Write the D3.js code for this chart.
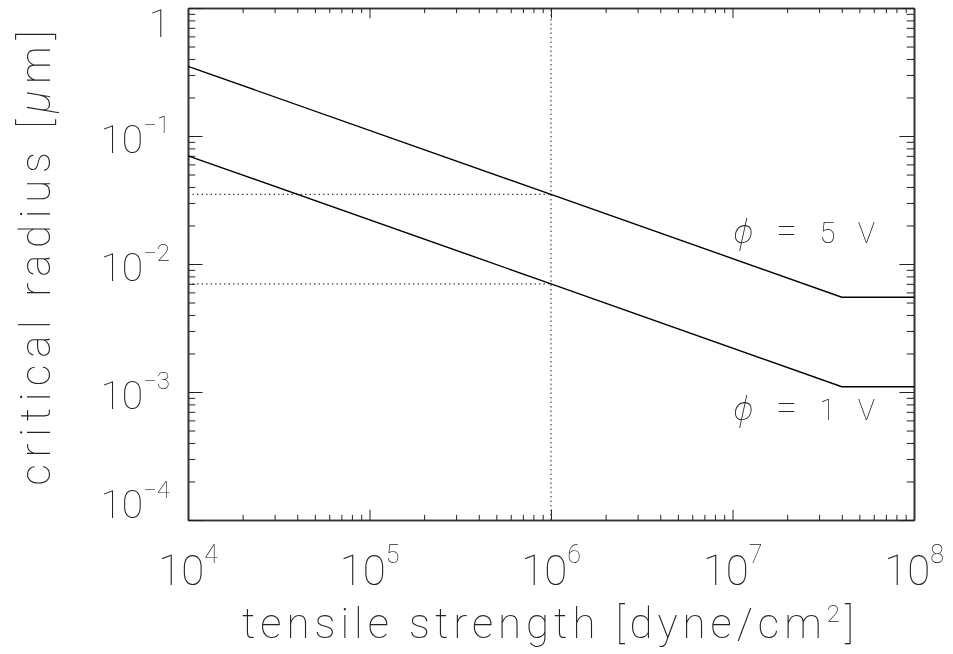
<!DOCTYPE html>
<html>
<head>
<meta charset="utf-8">
<script src="https://cdn.jsdelivr.net/npm/d3@7"></script>
<style>
  body { margin: 0; background: #fff; }
  svg { will-change: transform; }
  text { font-family: Roboto, "Noto Sans", sans-serif; font-weight: 100; fill: #222; opacity: 0.99; }
</style>
</head>
<body>
<div id="chart"></div>
<script>
// data
const strength = [1e4, 1e6, 4e7, 1e8];
const radius5V = [0.35, 0.035, 0.0055, 0.0055];
const radius1V = [0.07, 0.007, 0.0011, 0.0011];
const markStrength = 1e6;
const markRadii = [0.035, 0.007];

const xMajor = [1e4, 1e5, 1e6, 1e7, 1e8];
const xExp = ["4", "5", "6", "7", "8"];
const yMajor = [1e-4, 1e-3, 1e-2, 1e-1, 1];
const yExp = ["−4", "−3", "−2", "−1", null];

const width = 953;
const height = 654;
const margin = { top: 8, right: 39, bottom: 134, left: 188 };

const svg = d3.select("#chart")
    .append("svg")
    .attr("width", width)
    .attr("height", height);

const x = d3.scaleLog()
    .domain([1e4, 1e8])
    .range([margin.left, width - margin.right]);

const y = d3.scaleLog()
    .domain([1e-4, 1])
    .range([height - margin.bottom, margin.top]);

const xMinor = x.ticks().filter(v => !xMajor.includes(v));
const yMinor = y.ticks().filter(v => !yMajor.some(m => Math.abs(m - v) / m < 1e-9));

const plotW = x.range()[1] - x.range()[0];
const plotH = y.range()[0] - y.range()[1];
const xLen = plotH * 0.02;
const yLen = plotW * 0.02;

function styleAxis(g) {
    g.select(".domain").attr("stroke", "#333").attr("stroke-width", 1.6);
    g.selectAll(".tick line").attr("stroke", "#222").attr("stroke-width", 1);
    g.selectAll(".tick text").remove();
}

// ticks on all four sides, pointing inward
const axes = [
    [d3.axisBottom(x), `translate(0,${y.range()[0]})`, -xLen],
    [d3.axisTop(x), `translate(0,${y.range()[1]})`, -xLen],
];
axes.forEach(([ax, tr, len]) => {
    svg.append("g").attr("transform", tr)
        .call(ax.tickValues(xMinor).tickSize(len / 2).tickSizeOuter(0).tickFormat(""))
        .call(styleAxis);
    svg.append("g").attr("transform", tr)
        .call(ax.tickValues(xMajor).tickSize(len).tickSizeOuter(0).tickFormat(""))
        .call(styleAxis);
});

const yaxes = [
    [d3.axisLeft(y), `translate(${x.range()[0]},0)`, -yLen],
    [d3.axisRight(y), `translate(${x.range()[1]},0)`, -yLen],
];
yaxes.forEach(([ax, tr, len]) => {
    svg.append("g").attr("transform", tr)
        .call(ax.tickValues(yMinor).tickSize(len / 2).tickSizeOuter(0).tickFormat(""))
        .call(styleAxis);
    svg.append("g").attr("transform", tr)
        .call(ax.tickValues(yMajor).tickSize(len).tickSizeOuter(0).tickFormat(""))
        .call(styleAxis);
});

// x tick labels
const xl = svg.append("g").selectAll("text")
    .data(xMajor)
    .join("text")
    .attr("x", d => x(d))
    .attr("y", 585)
    .attr("text-anchor", "middle")
    .style("font-size", "42px");
xl.append("tspan").text("10");
xl.append("tspan")
    .attr("dy", -22)
    .style("font-size", "25px")
    .text((d, i) => xExp[i]);

// y tick labels
const yl = svg.append("g").selectAll("text")
    .data(yMajor)
    .join("text")
    .attr("x", 170)
    .attr("y", d => Math.min(Math.max(y(d) + 17, 37), 518))
    .attr("text-anchor", "end")
    .style("font-size", "39px");
yl.append("tspan").text((d, i) => yExp[i] ? "10" : "1");
yl.filter((d, i) => yExp[i])
    .append("tspan")
    .attr("dy", -20)
    .style("font-size", "24px")
    .text((d, i) => yExp.filter(e => e)[i]);

// dotted guide lines
const guide = svg.append("g")
    .attr("stroke", "#444")
    .attr("stroke-width", 1.2)
    .attr("stroke-dasharray", "1.5,3")
    .attr("fill", "none");
guide.append("line")
    .attr("x1", x(markStrength)).attr("x2", x(markStrength))
    .attr("y1", y.range()[0]).attr("y2", y.range()[1]);
guide.selectAll("line.h")
    .data(markRadii)
    .join("line")
    .attr("class", "h")
    .attr("x1", x.range()[0]).attr("x2", x(markStrength))
    .attr("y1", d => y(d)).attr("y2", d => y(d));

// curves
const line = d3.line()
    .x(d => x(d[0]))
    .y(d => y(d[1]));

[radius5V, radius1V].forEach(r => {
    svg.append("path")
        .datum(strength.map((s, i) => [s, r[i]]))
        .attr("d", line)
        .attr("fill", "none")
        .attr("stroke", "#000")
        .attr("stroke-width", 1.4);
});

// curve labels
[["5", 243], ["1", 420]].forEach(([v, yy]) => {
    const t = svg.append("text")
        .attr("x", 733)
        .attr("y", yy)
        .style("font-size", "29px")
        .attr("textLength", 142)
        .attr("lengthAdjust", "spacing");
    t.append("tspan").style("font-style", "italic").style("font-size", "34px").text("ϕ");
    t.append("tspan").text(" ");
    t.append("tspan").style("font-size", "38px").text("=");
    t.append("tspan").text(` ${v} V`);
});

// axis titles
const xt = svg.append("text")
    .attr("x", 548)
    .attr("y", 638)
    .attr("text-anchor", "middle")
    .attr("textLength", 612)
    .attr("lengthAdjust", "spacing")
    .style("font-size", "42px");
xt.append("tspan").text("tensile strength [dyne/cm");
xt.append("tspan").attr("dy", -16).style("font-size", "24px").text("2");
xt.append("tspan").attr("dy", 16).text("]");

const yt = svg.append("text")
    .attr("transform", "translate(50,258) rotate(-90)")
    .attr("text-anchor", "middle")
    .attr("textLength", 455)
    .attr("lengthAdjust", "spacing")
    .style("font-size", "42px");
yt.append("tspan").text("critical radius [");
yt.append("tspan").style("font-style", "italic").text("μ");
yt.append("tspan").text("m]");
</script>
</body>
</html>
